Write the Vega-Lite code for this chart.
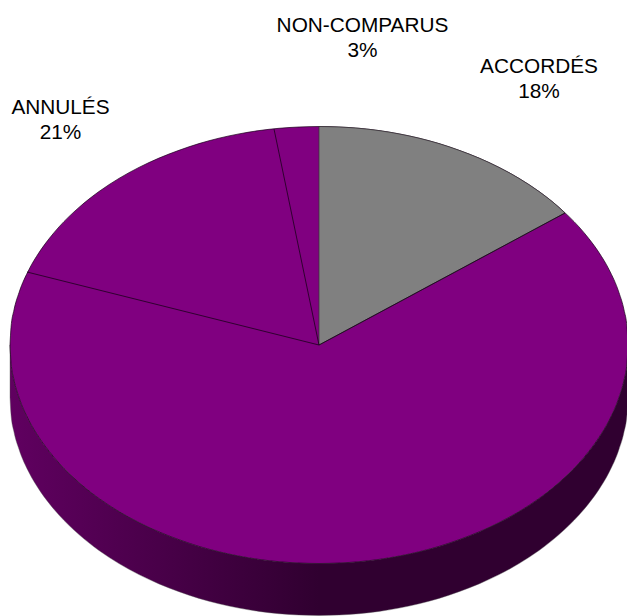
{
"$schema":"https://vega.github.io/schema/vega-lite/v6.json",
"width":627,"height":616,"padding":0,
"autosize":"none",
"background":"white",
"config":{"view":{"stroke":null}},
"datasets":{
"rim":[
{"x":10,"top":345,"bottom":345,"base":397},
{"x":11,"top":327.5,"bottom":362.5,"base":414.5},
{"x":14,"top":309.9,"bottom":380.1,"base":432.1},
{"x":19,"top":292.7,"bottom":397.3,"base":449.3},
{"x":29,"top":269.5,"bottom":420.5,"base":472.5},
{"x":39,"top":252.6,"bottom":437.4,"base":489.4},
{"x":49,"top":238.8,"bottom":451.2,"base":503.2},
{"x":59,"top":226.9,"bottom":463.1,"base":515.1},
{"x":79,"top":207.4,"bottom":482.6,"base":534.6},
{"x":99,"top":191.5,"bottom":498.5,"base":550.5},
{"x":119,"top":178.4,"bottom":511.6,"base":563.6},
{"x":139,"top":167.4,"bottom":522.6,"base":574.6},
{"x":159,"top":158.1,"bottom":531.9,"base":583.9},
{"x":179,"top":150.3,"bottom":539.7,"base":591.7},
{"x":199,"top":143.6,"bottom":546.4,"base":598.4},
{"x":219,"top":138.2,"bottom":551.8,"base":603.8},
{"x":239,"top":133.9,"bottom":556.1,"base":608.1},
{"x":259,"top":130.6,"bottom":559.4,"base":611.4},
{"x":279,"top":128.3,"bottom":561.7,"base":613.7},
{"x":299,"top":127,"bottom":563,"base":615},
{"x":319,"top":126.5,"bottom":563.5,"base":615.5},
{"x":339,"top":127,"bottom":563,"base":615},
{"x":359,"top":128.3,"bottom":561.7,"base":613.7},
{"x":379,"top":130.6,"bottom":559.4,"base":611.4},
{"x":399,"top":133.9,"bottom":556.1,"base":608.1},
{"x":419,"top":138.2,"bottom":551.8,"base":603.8},
{"x":439,"top":143.6,"bottom":546.4,"base":598.4},
{"x":459,"top":150.3,"bottom":539.7,"base":591.7},
{"x":479,"top":158.1,"bottom":531.9,"base":583.9},
{"x":499,"top":167.4,"bottom":522.6,"base":574.6},
{"x":519,"top":178.4,"bottom":511.6,"base":563.6},
{"x":539,"top":191.5,"bottom":498.5,"base":550.5},
{"x":559,"top":207.4,"bottom":482.6,"base":534.6},
{"x":579,"top":226.9,"bottom":463.1,"base":515.1},
{"x":589,"top":238.8,"bottom":451.2,"base":503.2},
{"x":599,"top":252.6,"bottom":437.4,"base":489.4},
{"x":609,"top":269.5,"bottom":420.5,"base":472.5},
{"x":619,"top":292.7,"bottom":397.3,"base":449.3},
{"x":624,"top":309.9,"bottom":380.1,"base":432.1},
{"x":627,"top":327.5,"bottom":362.5,"base":414.5},
{"x":628,"top":345,"bottom":345,"base":397}
],
"accordes":[
{"x":319,"top":126.5,"bottom":345},
{"x":339,"top":127,"bottom":334.3},
{"x":359,"top":128.3,"bottom":323.5},
{"x":379,"top":130.6,"bottom":312.8},
{"x":399,"top":133.9,"bottom":302.1},
{"x":419,"top":138.2,"bottom":291.3},
{"x":439,"top":143.6,"bottom":280.6},
{"x":459,"top":150.3,"bottom":269.9},
{"x":479,"top":158.1,"bottom":259.1},
{"x":499,"top":167.4,"bottom":248.4},
{"x":519,"top":178.4,"bottom":237.7},
{"x":539,"top":191.5,"bottom":226.9},
{"x":559,"top":207.4,"bottom":216.2},
{"x":565,"top":213,"bottom":213}
],
"spokes":[
{"spoke":"accordes","x":319,"y":345},{"spoke":"accordes","x":565,"y":213},
{"spoke":"annules","x":319,"y":345},{"spoke":"annules","x":27,"y":272},
{"spoke":"noncomparus","x":319,"y":345},{"spoke":"noncomparus","x":274,"y":129}
],
"labels":[
{"text":"NON-COMPARUS","x":362.5,"y":32},
{"text":"3%","x":362.5,"y":57},
{"text":"ACCORDÉS","x":539,"y":73},
{"text":"18%","x":539,"y":98},
{"text":"ANNULÉS","x":60.5,"y":114},
{"text":"21%","x":60.5,"y":139}
]
},
"layer":[
{"data":{"name":"rim"},
 "mark":{"type":"area","interpolate":"monotone","stroke":"#555555","strokeWidth":0.4,
  "fill":{"gradient":"linear","x1":0,"y1":0,"x2":1,"y2":0,"stops":[{"offset":0,"color":"#600060"},{"offset":0.5,"color":"#300030"},{"offset":1,"color":"#300030"}]}},
 "encoding":{
  "x":{"field":"x","type":"quantitative","scale":{"domain":[0,627],"nice":false,"zero":false},"axis":null},
  "y":{"field":"bottom","type":"quantitative","scale":{"domain":[616,0],"nice":false,"zero":false},"axis":null},
  "y2":{"field":"base"}}},
{"data":{"name":"rim"},
 "mark":{"type":"area","interpolate":"monotone","fill":"#800080","stroke":"#1a001a","strokeWidth":0.7},
 "encoding":{
  "x":{"field":"x","type":"quantitative"},
  "y":{"field":"top","type":"quantitative"},
  "y2":{"field":"bottom"}}},
{"data":{"name":"accordes"},
 "mark":{"type":"area","interpolate":"monotone","fill":"#808080","stroke":"#333333","strokeWidth":0.7},
 "encoding":{
  "x":{"field":"x","type":"quantitative"},
  "y":{"field":"top","type":"quantitative"},
  "y2":{"field":"bottom"}}},
{"data":{"name":"spokes"},
 "mark":{"type":"line","stroke":"#1a001a","strokeWidth":0.8},
 "encoding":{
  "x":{"field":"x","type":"quantitative"},
  "y":{"field":"y","type":"quantitative"},
  "detail":{"field":"spoke"}}},
{"data":{"name":"labels"},
 "mark":{"type":"text","font":"Liberation Sans","fontSize":20.8,"align":"center","baseline":"alphabetic","fill":"#000000"},
 "encoding":{
  "x":{"field":"x","type":"quantitative"},
  "y":{"field":"y","type":"quantitative"},
  "text":{"field":"text"}}}
]
}
